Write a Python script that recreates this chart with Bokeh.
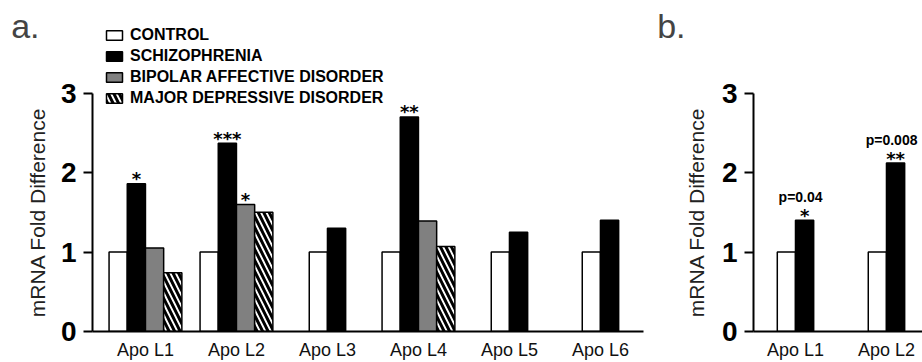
from bokeh.plotting import figure
from bokeh.models import (ColumnDataSource, Range1d, FixedTicker, LabelSet,
                          Legend, LegendItem, LinearAxis)
from bokeh.core.properties import value
from bokeh.layouts import row
from bokeh.embed import file_html
from bokeh.resources import INLINE

# ---------------- data ----------------
categories_a = ["Apo L1", "Apo L2", "Apo L3", "Apo L4", "Apo L5", "Apo L6"]
series_names = ["CONTROL", "SCHIZOPHRENIA", "BIPOLAR AFFECTIVE DISORDER",
                "MAJOR DEPRESSIVE DISORDER"]
control_a = [1.0, 1.0, 1.0, 1.0, 1.0, 1.0]
schizophrenia_a = [1.86, 2.37, 1.30, 2.70, 1.25, 1.40]
bipolar_a = [1.05, 1.60, None, 1.39, None, None]
depressive_a = [0.74, 1.50, None, 1.07, None, None]
# (category, series index, marker)
stars_a = [("Apo L1", 1, "*"), ("Apo L2", 1, "***"), ("Apo L2", 2, "*"),
           ("Apo L4", 1, "**")]

categories_b = ["Apo L1", "Apo L2"]
control_b = [1.0, 1.0]
schizophrenia_b = [1.40, 2.12]
stars_b = ["*", "**"]
pvalues_b = ["p=0.04", "p=0.008"]

y_ticks = [0, 1, 2, 3]
y_title = "mRNA Fold Difference"

# ---------------- styling ----------------
FONT = "Liberation Sans"
BAR_W = 0.2
TITLE_POS = 1.5     # the rotated y title is centred on the 0..3 span
LETTER_POS = 3.85   # where the panel letter is anchored (data units)
series_styles = [
    dict(fill_color="white"),
    dict(fill_color="black"),
    dict(fill_color="#808080"),
    dict(fill_color="white", hatch_pattern="left_diagonal_line",
         hatch_color="black", hatch_scale=11, hatch_weight=3),
]


def make_fig(width, border_left, border_right, x_start, x_end):
    p = figure(width=width, height=362, output_backend="svg", toolbar_location=None,
               x_range=Range1d(x_start, x_end), y_range=Range1d(0, 4.166),
               min_border_left=border_left, min_border_right=border_right,
               min_border_top=0, min_border_bottom=30, title=None)
    p.xgrid.visible = False
    p.ygrid.visible = False
    p.outline_line_color = None
    p.background_fill_color = "white"
    p.border_fill_color = "white"
    return p


def bare_axis(tick, text, standoff, size, style, color, orientation):
    """An extra left axis that only shows one text at one tick position."""
    return LinearAxis(ticker=FixedTicker(ticks=[tick]),
                      major_label_overrides={tick: text},
                      axis_line_color=None, major_tick_line_color=None,
                      minor_tick_line_color=None, major_tick_out=0, major_tick_in=0,
                      major_label_standoff=standoff,
                      major_label_orientation=orientation,
                      major_label_text_font=FONT,
                      major_label_text_font_size=size,
                      major_label_text_font_style=style,
                      major_label_text_color=color)


def style_axes(p, cats, letter, title_standoff, letter_standoff):
    ya = p.yaxis[0]
    ya.ticker = FixedTicker(ticks=y_ticks)
    ya.bounds = (0, 3)
    ya.major_tick_out = 9
    ya.major_tick_in = 0
    ya.minor_tick_line_color = None
    ya.axis_line_width = 2
    ya.major_tick_line_width = 2
    ya.major_label_text_font = FONT
    ya.major_label_text_font_size = "28px"
    ya.major_label_text_font_style = "bold"
    ya.major_label_text_color = "black"
    ya.major_label_standoff = 7

    # axis title along the 0..3 span, then the panel letter at the top
    p.add_layout(bare_axis(TITLE_POS, y_title, title_standoff, "21px", "normal",
                           "#222222", "parallel"), "left")
    p.add_layout(bare_axis(LETTER_POS, letter, letter_standoff, "34px", "normal",
                           "#444444", "horizontal"), "left")

    xa = p.xaxis[0]
    xa.ticker = FixedTicker(ticks=list(range(len(cats))))
    xa.major_label_overrides = {i: c for i, c in enumerate(cats)}
    xa.major_tick_out = 0
    xa.major_tick_in = 0
    xa.minor_tick_line_color = None
    xa.axis_line_width = 2
    xa.major_label_text_font = FONT
    xa.major_label_text_font_size = "18px"
    xa.major_label_text_color = "#111111"
    xa.major_label_standoff = 8


def draw_groups(p, cats, series_values):
    """Draw grouped bars; returns renderers and bar-center lookup."""
    per_series = [dict(x=[], top=[]) for _ in series_values]
    centers = {}
    for i in range(len(cats)):
        present = [s for s, vals in enumerate(series_values) if vals[i] is not None]
        n = len(present)
        for j, s in enumerate(present):
            xc = i + (j - (n - 1) / 2) * BAR_W
            per_series[s]["x"].append(xc)
            per_series[s]["top"].append(series_values[s][i])
            centers[(cats[i], s)] = (xc, series_values[s][i])
    renderers = []
    for s, d in enumerate(per_series):
        r = p.vbar(x="x", top="top", bottom=0, width=BAR_W,
                   source=ColumnDataSource(d), line_color="black", line_width=1.5,
                   **series_styles[s])
        renderers.append(r)
    return renderers, centers


def add_text(p, xs, ys, texts, size, offset, font, x_offset=0):
    src = ColumnDataSource(dict(x=xs, y=ys, text=texts))
    p.add_layout(LabelSet(x="x", y="y", text="text", source=src, y_offset=offset,
                          x_offset=x_offset,
                          text_align="center", text_baseline="middle",
                          text_font=value(font), text_font_size=size,
                          text_font_style="bold", text_color="black"))


# ---------------- panel a ----------------
pa = make_fig(648, 92, 5, -0.582, 5.473)
style_axes(pa, categories_a, "a.", 8, -16)
rends_a, centers_a = draw_groups(pa, categories_a,
                                 [control_a, schizophrenia_a, bipolar_a, depressive_a])

sx, sy, st = [], [], []
for cat, s, mark in stars_a:
    xc, top = centers_a[(cat, s)]
    sx.append(xc)
    sy.append(top)
    st.append(mark)
add_text(pa, sx, sy, st, "18px", 5, "DejaVu Sans")

legend = Legend(items=[LegendItem(label=n, renderers=[r])
                       for n, r in zip(series_names, rends_a)],
                location=(12, 224), orientation="vertical",
                glyph_width=20, glyph_height=12, label_height=12, spacing=3,
                padding=0, margin=0, border_line_color=None,
                background_fill_alpha=0, label_text_font=FONT,
                label_text_font_size="16px", label_text_font_style="bold",
                label_standoff=6, label_text_color="black")
pa.add_layout(legend)

# ---------------- panel b ----------------
pb = make_fig(274, 105, 0, -0.4615, 1.396)
style_axes(pb, categories_b, "b.", 10, -3)
rends_b, centers_b = draw_groups(pb, categories_b, [control_b, schizophrenia_b])

bx = [centers_b[(c, 1)][0] for c in categories_b]
by = [centers_b[(c, 1)][1] for c in categories_b]
add_text(pb, bx, by, stars_b, "18px", 5, "DejaVu Sans")
add_text(pb, bx, by, pvalues_b, "14px", 23, FONT, x_offset=-4)

layout = row(pa, pb, spacing=0)
open("out.html", "w").write(file_html(layout, INLINE))
